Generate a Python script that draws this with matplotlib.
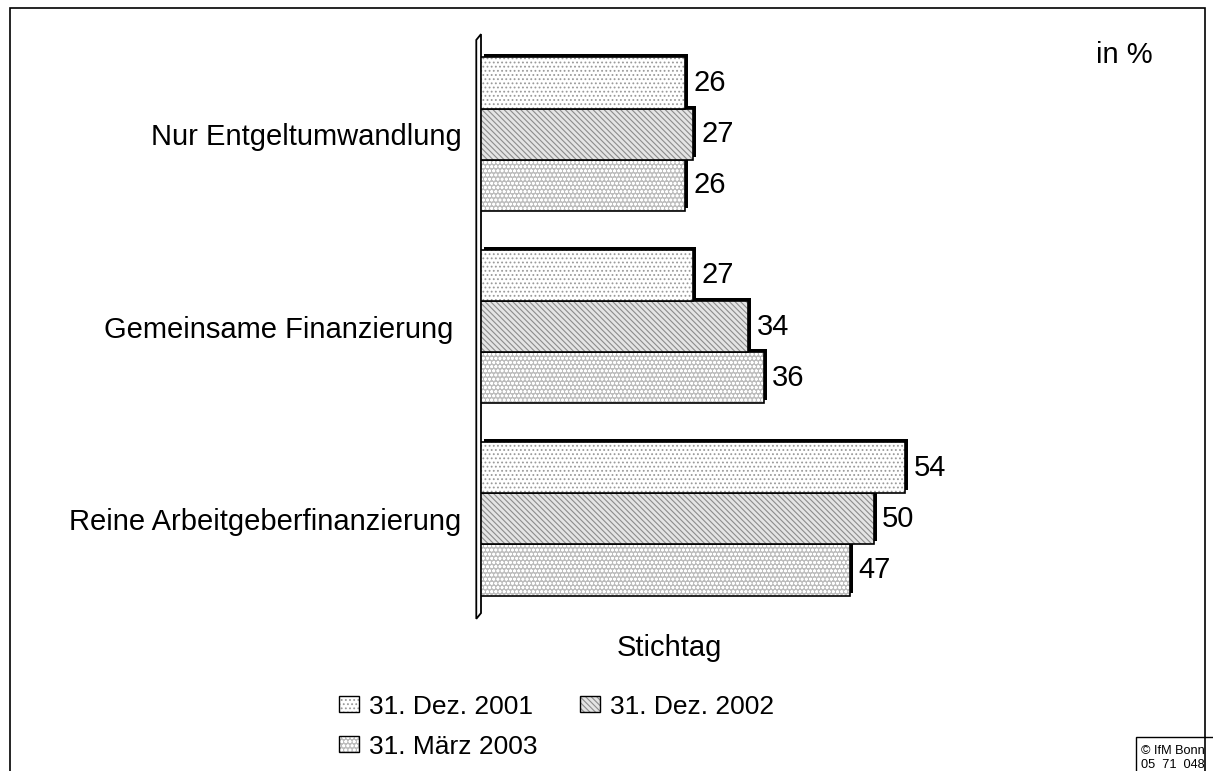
import matplotlib.pyplot as plt
from matplotlib.patches import Rectangle, Polygon

kategorien = ["Nur Entgeltumwandlung", "Gemeinsame Finanzierung ", "Reine Arbeitgeberfinanzierung"]
stichtage = ["31. Dez. 2001", "31. Dez. 2002", "31. März 2003"]
werte_2001 = [26, 27, 54]
werte_2002 = [27, 34, 50]
werte_2003 = [26, 36, 47]

plt.rcParams['font.family'] = ['Liberation Sans', 'DejaVu Sans']
plt.rcParams['hatch.linewidth'] = 0.8

fig = plt.figure(figsize=(12.13, 7.71), dpi=100)
ax = fig.add_axes([481 / 1213, 1 - 615 / 771, 700 / 1213, 577 / 771])

serien = [werte_2001, werte_2002, werte_2003]
# face, hatch, hatch colour
stile = [("white", "....", "#9a9a9a"),
         ("#e4e4e4", "\\\\\\\\\\\\", "#8c8c8c"),
         ("#bdbdbd", "oooo", "white")]
h = 0.266
ypos = [2, 1, 0]
offs = [h, 0, -h]
dx = 3 / 7.85      # Schatten nach rechts
dy = 3 / 192       # Schatten nach oben

handles = []
for i in [2, 1, 0]:
    face, hatch, hc = stile[i]
    z = 2 + 3 * (2 - i)
    y = [p + offs[i] for p in ypos]
    ax.barh([v + dy for v in y], serien[i], left=dx, height=h, color="black", linewidth=0, zorder=z)
    ax.barh(y, serien[i], height=h, color=face, hatch=hatch, edgecolor=hc, linewidth=0, zorder=z + 1)
    ax.barh(y, serien[i], height=h, fill=False, edgecolor="black", linewidth=1.2, zorder=z + 2)
    for yy, v in zip(y, serien[i]):
        ax.text(v + 1.1, yy, str(v), va="center", ha="left", fontsize=21)

for i in range(3):
    face, hatch, hc = stile[i]
    handles.append((Rectangle((0, 0), 1, 1, facecolor=face, hatch=hatch, edgecolor=hc, linewidth=0),
                    Rectangle((0, 0), 1, 1, fill=False, edgecolor="black", linewidth=1.0)))

ax.set_xlim(0, 700 / 7.85)
ax.set_ylim(-0.5, 2.5)
ax.set_yticks(ypos)
ax.set_yticklabels(kategorien, fontsize=21)
ax.tick_params(axis="y", length=0, pad=14)
ax.set_xticks([])
for s in ["top", "right", "bottom", "left"]:
    ax.spines[s].set_visible(False)

# 3D-Wand links
wand = Polygon([(-0.6, -0.52), (0, -0.49), (0, 2.52), (-0.6, 2.49)], closed=True,
               facecolor="white", edgecolor="black", linewidth=1.3, clip_on=False, zorder=1)
ax.add_patch(wand)

fig.text(669 / 1213, 1 - 648 / 771, "Stichtag", ha="center", va="center", fontsize=21)
fig.text(1124 / 1213, 1 - 55 / 771, "in %", ha="center", va="center", fontsize=21)

leg_handles = [handles[0], handles[2], handles[1]]
leg_labels = [stichtage[0], stichtage[2], stichtage[1]]
fig.legend(leg_handles, leg_labels, ncol=2, loc="upper left", bbox_to_anchor=(315 / 1213, 1 - 671 / 771),
           frameon=False, fontsize=19, handlelength=0.75, handleheight=0.55, handletextpad=0.4,
           columnspacing=1.6, labelspacing=0.6)

# Rahmen
fig.patches.append(Rectangle((10 / 1213, -0.05), 1195 / 1213, 1.05 - 8 / 771, transform=fig.transFigure,
                             fill=False, edgecolor="black", linewidth=1.2))
fig.patches.append(Rectangle((1136 / 1213, -0.05), 0.2, 0.05 + 34 / 771, transform=fig.transFigure,
                             fill=False, edgecolor="black", linewidth=1.0))
fig.text(1141 / 1213, 1 - 751 / 771, "© IfM Bonn", ha="left", va="center", fontsize=9.2)
fig.text(1141 / 1213, 1 - 765 / 771, "05  71  048", ha="left", va="center", fontsize=9.2)

fig.savefig("out.png", dpi=100)
